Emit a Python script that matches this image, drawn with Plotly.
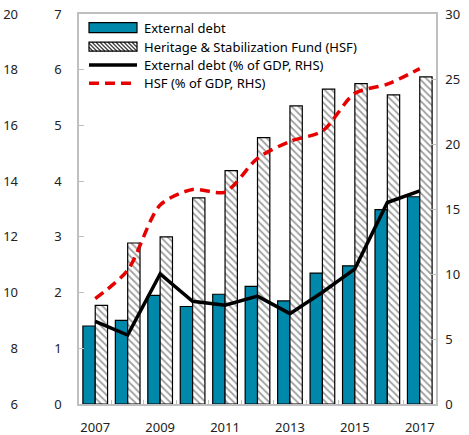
import plotly.graph_objects as go

# data
years = [str(y) for y in range(2007, 2018)]
year_labels = [y if int(y) % 2 == 1 else "" for y in years]
ext_debt = [1.40, 1.50, 1.95, 1.75, 1.97, 2.11, 1.85, 2.35, 2.48, 3.49, 3.72]
hsf = [1.77, 2.89, 3.00, 3.70, 4.19, 4.78, 5.35, 5.65, 5.75, 5.55, 5.87]
ext_debt_gdp = [6.35, 5.3, 10.0, 7.9, 7.6, 8.3, 6.95, 8.6, 10.4, 15.5, 16.4]
hsf_gdp = [8.1, 10.3, 15.3, 16.5, 16.3, 18.9, 20.2, 21.0, 23.9, 24.6, 25.8]

names = ["External debt", "Heritage & Stabilization Fund (HSF)",
         "External debt (% of GDP, RHS)", "HSF (% of GDP, RHS)"]

BLUE = "#0088ab"
RED = "#e60000"
GRID = "#bfbfbf"
FONT = "Noto Sans"

W, H = 469, 435
ML, MR, MT, MB = 21, 33, 14, 31
PLOT_LEFT = 79


def px(x):
    return (x - ML) / (W - ML - MR)


def py(y):
    return (H - MB - y) / (H - MT - MB)


fig = go.Figure()

fig.add_trace(go.Bar(
    x=years, y=ext_debt, name=names[0],
    marker=dict(color=BLUE, line=dict(color="black", width=1.2)),
))
fig.add_trace(go.Bar(
    x=years, y=hsf, name=names[1],
    marker=dict(color="white", line=dict(color="black", width=1.2),
                pattern=dict(shape="\\", size=5, solidity=0.35,
                             fgcolor="#404040", bgcolor="white")),
))
fig.add_trace(go.Scatter(
    x=years, y=ext_debt_gdp, name=names[2], yaxis="y2", mode="lines",
    line=dict(color="black", width=3.5),
))
fig.add_trace(go.Scatter(
    x=years, y=hsf_gdp, name=names[3], yaxis="y2", mode="lines",
    line=dict(color=RED, width=3.5, dash="10px,6px", shape="spline", smoothing=0.8),
))
# empty trace so the outer left scale gets drawn
fig.add_trace(go.Scatter(x=years[:1], y=[None], yaxis="y3", mode="lines",
                         showlegend=False, hoverinfo="skip"))

# hand-made legend (wide symbols like the original)
sx0, sx1 = 89, 137
rows = [27.7, 46.7, 65.0, 83.3]
shapes = []
shapes.append(dict(type="rect", xref="paper", yref="paper",
                   x0=px(sx0), x1=px(sx1), y0=py(rows[0] + 5), y1=py(rows[0] - 5),
                   fillcolor=BLUE, line=dict(color="black", width=1.2)))
# hatched symbol
top, bot = rows[1] - 4.5, rows[1] + 4.5
h = bot - top
path = ""
x = sx0 - h
while x < sx1:
    xa, ya = x, top
    xb, yb = x + h, bot
    if xa < sx0:
        ya = top + (sx0 - xa)
        xa = sx0
    if xb > sx1:
        yb = bot - (xb - sx1)
        xb = sx1
    if xb > xa:
        path += f"M{px(xa)},{py(ya)} L{px(xb)},{py(yb)} "
    x += 4
shapes.append(dict(type="rect", xref="paper", yref="paper",
                   x0=px(sx0), x1=px(sx1), y0=py(bot), y1=py(top),
                   fillcolor="white", line=dict(width=0)))
shapes.append(dict(type="path", xref="paper", yref="paper", path=path,
                   line=dict(color="#404040", width=1.3)))
shapes.append(dict(type="rect", xref="paper", yref="paper",
                   x0=px(sx0), x1=px(sx1), y0=py(bot), y1=py(top),
                   line=dict(color="black", width=1.2)))
shapes.append(dict(type="line", xref="paper", yref="paper",
                   x0=px(sx0), x1=px(sx1), y0=py(rows[2]), y1=py(rows[2]),
                   line=dict(color="black", width=3.5)))
shapes.append(dict(type="line", xref="paper", yref="paper",
                   x0=px(sx0), x1=px(sx1), y0=py(rows[3]), y1=py(rows[3]),
                   line=dict(color=RED, width=3.5, dash="10px,6px")))

annotations = []
for name, ry in zip(names, rows):
    annotations.append(dict(text=name, xref="paper", yref="paper",
                            x=px(142), y=py(ry), xanchor="left", yanchor="middle",
                            showarrow=False, font=dict(size=13, color="black", family=FONT)))

axis_common = dict(showgrid=False, zeroline=False, showline=True,
                   linecolor=GRID, linewidth=1.5, ticks="inside", automargin=False,
                   tickcolor=GRID, ticklen=5, tickfont=dict(size=13, color="#222"))

fig.update_layout(
    width=W, height=H,
    margin=dict(l=ML, r=MR, t=MT, b=MB),
    paper_bgcolor="white", plot_bgcolor="white",
    font=dict(family=FONT, size=13, color="#222"),
    barmode="group", bargap=0.24, bargroupgap=0,
    showlegend=False,
    xaxis=dict(type="category", domain=[px(PLOT_LEFT), 1],
               tickvals=years, ticktext=year_labels, tickson="boundaries",
               tickangle=0, mirror=True, ticklabelstandoff=11,
               **{**axis_common, "ticklen": 4}),
    yaxis=dict(range=[0, 7], dtick=1, ticklabelstandoff=13, **axis_common),
    yaxis2=dict(range=[0, 30], dtick=5, overlaying="y", side="right",
                ticklabelstandoff=5, **axis_common),
    yaxis3=dict(range=[6, 20], dtick=2, overlaying="y", side="left",
                anchor="free", position=0, showgrid=False, zeroline=False,
                showline=False, ticks="", ticklabelstandoff=3, automargin=False,
                tickfont=dict(size=13, color="#222")),
    shapes=shapes,
    annotations=annotations,
)

# drop the default page margin so the figure sits at the window corner
fig.write_html("out.html", config={"displayModeBar": False},
               post_script="document.body.style.margin='0px';")
